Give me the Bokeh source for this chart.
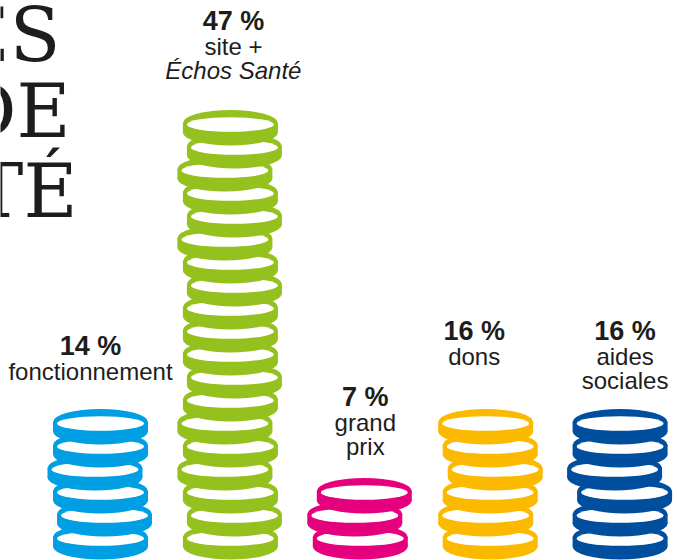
from bokeh.plotting import figure
from bokeh.models import Range1d, ColumnDataSource
from bokeh.embed import file_html
from bokeh.resources import INLINE
from bokeh.core.properties import value

# ---------------- data ----------------
categories = ["fonctionnement", "site + Échos Santé", "grand prix", "dons", "aides sociales"]
percent = [14, 47, 7, 16, 16]
coins = [6, 19, 3, 6, 6]
label_lines = [["fonctionnement"], ["site +", "Échos Santé"], ["grand", "prix"], ["dons"], ["aides", "sociales"]]
label_italic = [[False], [False, True], [False, False], [False], [False, False]]
title_lines = ["ES", "DE", "TÉ"]

# ---------------- style ----------------
colors = ["#009fe3", "#95c11f", "#e5007e", "#fbb900", "#004f9f"]
ink = "#1d1d1b"
# horizontal jitter of each coin in px, listed from the top coin downwards
jitter = [
    [0, 0, -5.5, 0, 4, 0],
    [0, 4, -5.5, 0, 4, -5.5, 0, 4, 0, 0, 0, 4, 0, -5.5, 0, -5.5, 0, 4, 0],
    [4, -5.5, 0],
    [-4.5, 0, 5, 0, -4.5, 0],
    [0, 0, -5.5, 4.5, 0, 0],
]
label_gap = [29, 31, 23, 44, 20]     # px between stack top and last label baseline
label_dx = [-10, 3, 5, -16, 5]       # px horizontal shift of labels
W, H, BAND = 95, 26, 9.5             # coin width, face height, side band
WI, HI, WOFF = 87, 14.5, 1.5         # inner white face and its downward shift
STEP = 23                            # px per coin in a stack
BASE = 1                             # px from bottom
LINE = 24
SPACING = 129.9                      # px between stacks
FIRST = 100                          # px of first stack centre
BASELINE_FIX = 0.37                  # em correction for text baseline
PCT_SIZE, TXT_SIZE, TITLE_SIZE = 27, 24, 74

WIDTH, HEIGHT = 677, 560

p = figure(width=WIDTH, height=HEIGHT, output_backend="svg", toolbar_location=None,
           x_range=Range1d(-FIRST / SPACING, (WIDTH - FIRST) / SPACING),
           y_range=Range1d(0, HEIGHT), min_border=0)
p.axis.visible = False
p.grid.visible = False
p.outline_line_color = None
p.background_fill_color = "white"
p.border_fill_color = "white"

def dx(px):
    return px / SPACING

# coins: drawn level by level from bottom to top so upper coins cover lower ones
for level in range(max(coins)):
    xs, yb, cols = [], [], []
    for i, n in enumerate(coins):
        if level < n:
            xs.append(i + dx(jitter[i][n - 1 - level]))
            yb.append(BASE + level * STEP)
            cols.append(colors[i])
    src = ColumnDataSource(dict(
        x=xs,
        yb=[y + H / 2 for y in yb],
        ym=[y + H / 2 + BAND / 2 for y in yb],
        yt=[y + H / 2 + BAND for y in yb],
        yw=[y + H / 2 + BAND - WOFF for y in yb],
        c=cols,
    ))
    p.ellipse(x="x", y="yb", width=W, height=H, width_units="screen", height_units="screen",
              fill_color="c", line_color=None, source=src)
    p.rect(x="x", y="ym", width=W, height=BAND, width_units="screen", height_units="screen",
           fill_color="c", line_color=None, source=src)
    p.ellipse(x="x", y="yt", width=W, height=H, width_units="screen", height_units="screen",
              fill_color="c", line_color=None, source=src)
    p.ellipse(x="x", y="yw", width=WI, height=HI, width_units="screen", height_units="screen",
              fill_color="white", line_color=None, source=src)

# labels
for i, n in enumerate(coins):
    top = BASE + (n - 1) * STEP + H + BAND
    last = top + label_gap[i]
    lines = label_lines[i]
    pct_y = last + len(lines) * LINE
    p.text(x=[i], y=[pct_y + BASELINE_FIX * PCT_SIZE], text=[f"{percent[i]} %"], x_offset=label_dx[i],
           text_font=value("Liberation Sans"), text_font_size=f"{PCT_SIZE}px", text_font_style="bold",
           text_color=ink, text_align="center", text_baseline="alphabetic")
    for j, t in enumerate(lines):
        p.text(x=[i], y=[pct_y - (j + 1) * LINE + BASELINE_FIX * TXT_SIZE], text=[t], x_offset=label_dx[i],
               text_font=value("Liberation Sans"), text_font_size=f"{TXT_SIZE}px",
               text_font_style="italic" if label_italic[i][j] else "normal",
               text_color=ink, text_align="center", text_baseline="alphabetic")

# cropped title at the left edge
title_right_px = [60, 70, 77]
title_base_px = [62, 138, 218]
p.text(x=[dx(r - FIRST) for r in title_right_px],
       y=[HEIGHT - b + BASELINE_FIX * TITLE_SIZE for b in title_base_px],
       text=title_lines, text_font=value("DejaVu Serif"), text_font_size=f"{TITLE_SIZE}px",
       text_color=ink, text_align="right", text_baseline="alphabetic")

open("out.html", "w").write(file_html(p, INLINE))
